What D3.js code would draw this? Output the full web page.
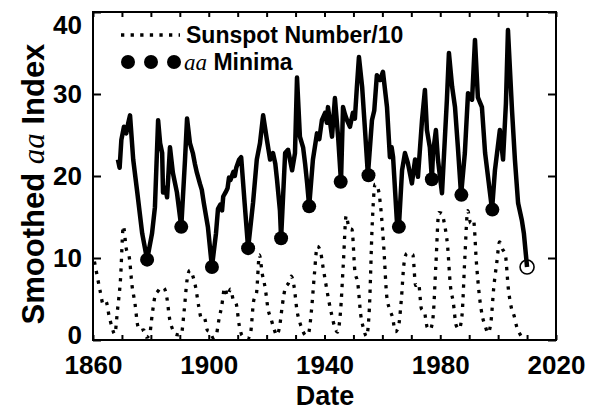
<!DOCTYPE html>
<html><head><meta charset="utf-8">
<script src="https://cdn.jsdelivr.net/npm/d3@7"></script>
<style>body{margin:0;background:#fff}</style>
</head><body>
<svg id="c" width="592" height="410"></svg>
<script>
// Sunspot number / 10 (yearly, plotted mid-year)
const sunYears = d3.range(1860.5, 2010, 1);
const sunValues = [9.58,7.72,5.91,4.40,4.70,3.05,1.63,0.73,3.76,7.40,
13.90,11.12,10.16,6.62,4.47,1.70,1.13,1.24,0.34,0.60,
3.23,5.43,5.97,6.37,6.35,5.22,2.54,1.31,0.68,0.63,
0.71,3.56,7.30,8.51,7.80,6.40,4.18,2.62,2.67,1.21,
0.95,0.27,0.50,2.44,4.20,6.35,5.38,6.20,4.85,4.39,
1.86,0.57,0.36,0.14,0.96,4.74,5.71,10.39,8.06,6.36,
3.76,2.61,1.42,0.58,1.67,4.43,6.39,6.90,7.78,6.49,
3.57,2.12,1.11,0.57,0.87,3.61,7.97,11.44,10.96,8.88,
6.78,4.75,3.06,1.63,0.96,3.32,9.26,15.16,13.63,13.47,
8.39,6.94,3.15,1.39,0.44,3.80,14.17,19.02,18.48,15.90,
11.23,5.39,3.75,2.79,1.02,1.51,4.70,9.38,10.59,10.55,
10.45,6.66,6.89,3.80,3.45,1.55,1.26,2.75,9.25,15.54,
15.46,14.04,11.59,6.66,4.59,1.79,1.34,2.94,10.02,15.76,
14.26,14.57,9.43,5.46,2.99,1.75,0.86,2.15,6.43,9.33,
11.96,11.10,10.40,6.37,4.04,2.98,1.52,0.75,0.29,0.31];

// Smoothed aa index
const aaYears = [1868.6,1869.2,1869.8,1870.7,1871.5,1872.2,1872.8,1873.9,1875.3,1877.0,1878.7,
1880.4,1881.4,1882.5,1883.2,1883.9,1884.2,1885.0,1885.6,1886.6,1887.6,1889.0,1890.5,
1891.8,1892.5,1893.5,1894.5,1895.2,1895.9,1897.0,1897.6,1898.3,1899.7,1901.1,1902.5,
1903.2,1904.0,1904.6,1905.0,1905.8,1906.5,1907.0,1907.5,1908.5,1909.0,1909.5,1910.5,1911.2,1912.4,1913.6,
1915.3,1916.6,1917.7,1918.8,1920.1,1921.2,1922.2,1923.0,1923.6,1924.6,1925.0,
1926.4,1927.4,1928.8,1929.8,1930.5,1931.5,1932.6,1933.3,1934.0,1934.7,1936.0,
1937.4,1938.2,1939.1,1940.2,1940.8,1941.2,1942.6,1943.6,1944.7,1945.7,1946.4,1947.1,1947.8,
1948.8,1949.8,1950.5,1951.2,1951.9,1953.0,1954.0,1955.0,1956.4,1957.2,1958.1,1959.2,
1960.2,1961.6,1962.6,1963.2,1963.7,1965.0,1965.7,1966.8,1967.8,1968.8,1970.2,
1971.3,1972.3,1973.7,1974.7,1975.4,1976.4,1977.1,1977.5,1978.5,1979.2,
1980.6,1982.3,1983.0,1984.1,1985.1,1986.1,1987.2,1988.5,1989.6,1991.0,
1992.0,1993.0,1994.4,1995.5,1997.2,1997.9,1998.9,2000.6,2001.7,2002.7,
2003.4,2004.8,2005.8,2006.9,2008.2,2008.9,2010.0];
const aaValues = [22.0,21.0,24.4,26.0,25.2,26.5,27.4,22.0,18.0,13.0,9.8,
13.0,16.2,26.8,24.0,22.8,18.0,18.6,17.4,23.5,20.4,18.0,13.8,
22.0,27.0,24.0,22.8,21.5,20.4,19.0,18.3,16.7,13.8,8.9,13.0,
16.0,16.5,15.8,17.5,18.0,18.5,19.8,19.5,20.5,20.0,21.0,22.0,22.3,16.7,11.2,
16.7,22.0,24.0,27.4,24.4,22.0,22.8,21.5,19.5,15.8,12.4,
22.8,23.2,20.7,22.8,32.0,24.8,23.5,21.5,19.1,16.3,22.0,
25.2,24.5,26.8,27.7,26.5,28.4,24.8,29.5,24.8,19.3,28.4,27.5,26.8,
26.0,27.7,27.0,30.9,34.5,30.9,25.6,20.1,26.8,28.0,32.3,31.7,
32.7,28.4,22.3,23.5,22.3,14.6,13.8,20.7,22.8,21.6,19.1,
22.0,19.9,26.8,30.5,25.6,23.5,19.6,22.8,25.6,22.0,
17.9,29.3,35.0,30.9,28.4,23.5,17.7,22.8,30.1,29.3,
36.6,29.6,28.4,22.8,17.9,15.9,20.7,25.6,22.0,28.9,
37.8,28.0,22.0,16.7,14.6,13.0,8.9];

// aa minima
const minYears = [1878.7,1890.5,1901.1,1913.6,1925.0,1934.7,1945.6,1955.2,1965.7,1977.1,1987.3,1998.0];
const minValues = [9.8,13.8,8.9,11.2,12.4,16.3,19.3,20.1,13.8,19.6,17.7,15.9];
const openMinYear = [2010.0];
const openMinValue = [8.9];

const xTicks = d3.range(1860, 2021, 10);
const xLabels = [1860, 1900, 1940, 1980, 2020];
const yTicks = [0, 10, 20, 30, 40];

const FONT = "'Liberation Sans', Arial, Helvetica, sans-serif";
const SERIF = "'Liberation Serif', 'Times New Roman', serif";
const svg = d3.select("#c");
const x = d3.scaleLinear().domain([1860, 2020]).range([93, 556]);
const y = d3.scaleLinear().domain([0, 40]).range([340, 12]);

// sunspot dotted line
const sunData = sunYears.map((d, i) => [d, sunValues[i]]);
svg.append("path").datum(sunData)
  .attr("d", d3.line().x(d => x(d[0])).y(d => y(d[1])).curve(d3.curveMonotoneX))
  .attr("fill", "none").attr("stroke", "#000").attr("stroke-width", 3.3)
  .attr("stroke-dasharray", "3.3,6.3");

// aa line
const aaData = aaYears.map((d, i) => [d, aaValues[i]]);
svg.append("path").datum(aaData)
  .attr("d", d3.line().x(d => x(d[0])).y(d => y(d[1])))
  .attr("fill", "none").attr("stroke", "#000").attr("stroke-width", 4.5)
  .attr("stroke-linejoin", "round");

// minima
svg.append("g").selectAll("circle").data(minYears.map((d, i) => [d, minValues[i]]))
  .join("circle").attr("cx", d => x(d[0])).attr("cy", d => y(d[1])).attr("r", 7).attr("fill", "#000");
svg.append("g").selectAll("circle").data(openMinYear.map((d, i) => [d, openMinValue[i]]))
  .join("circle").attr("cx", d => x(d[0])).attr("cy", d => y(d[1])).attr("r", 7)
  .attr("fill", "none").attr("stroke", "#000").attr("stroke-width", 1.6);

// axes
function styleAxis(g) {
  g.select(".domain").remove();
  g.selectAll(".tick line").attr("stroke", "#000").attr("stroke-width", 2);
  g.selectAll("text").attr("font-family", FONT).attr("font-size", 26).attr("fill", "#000")
    .attr("font-weight", "bold");
}
svg.append("g").attr("transform", `translate(0,${y(0)})`)
  .call(d3.axisBottom(x).tickValues(xTicks).tickSize(-5).tickPadding(16)
    .tickFormat(d => xLabels.includes(d) ? String(d) : ""))
  .call(styleAxis);
svg.append("g").attr("transform", `translate(0,${y(40)})`)
  .call(d3.axisTop(x).tickValues(xTicks).tickSize(-5).tickFormat(""))
  .call(styleAxis);
const gy = svg.append("g").attr("transform", `translate(${x(1860)},0)`)
  .call(d3.axisLeft(y).tickValues(yTicks).tickSize(-8).tickPadding(11).tickFormat(d3.format("d")))
  .call(styleAxis);
gy.selectAll(".tick text").filter(d => d === 40).attr("y", 13);
gy.selectAll(".tick text").filter(d => d === 0).attr("y", -5);
svg.append("g").attr("transform", `translate(${x(2020)},0)`)
  .call(d3.axisRight(y).tickValues(yTicks).tickSize(-8).tickFormat(""))
  .call(styleAxis);

// frame
svg.append("rect").attr("x", x(1860)).attr("y", y(40))
  .attr("width", x(2020) - x(1860)).attr("height", y(0) - y(40))
  .attr("fill", "none").attr("stroke", "#000").attr("stroke-width", 2);

// axis titles
svg.append("text").attr("x", 325).attr("y", 405).attr("text-anchor", "middle")
  .attr("font-family", FONT).attr("font-size", 27).attr("font-weight", "bold")
  .text("Date");
const yl = svg.append("text").attr("transform", "translate(44,184) rotate(-90)")
  .attr("text-anchor", "middle").attr("font-family", FONT).attr("font-size", 31)
  .attr("font-weight", "bold");
yl.append("tspan").text("Smoothed ");
yl.append("tspan").attr("font-family", SERIF).attr("font-style", "italic").attr("font-weight", "normal").text("aa");
yl.append("tspan").text(" Index");

// legend
svg.append("line").attr("x1", 121).attr("x2", 180).attr("y1", 35).attr("y2", 35)
  .attr("stroke", "#000").attr("stroke-width", 3.3).attr("stroke-dasharray", "3.3,6.3");
svg.append("text").attr("x", 186).attr("y", 43).attr("font-family", FONT)
  .attr("font-size", 23).attr("font-weight", "bold").text("Sunspot Number/10");
svg.append("g").selectAll("circle").data([128, 151, 174]).join("circle")
  .attr("cx", d => d).attr("cy", 62).attr("r", 7).attr("fill", "#000");
const lt = svg.append("text").attr("x", 184).attr("y", 70).attr("font-family", FONT)
  .attr("font-size", 23).attr("font-weight", "bold");
lt.append("tspan").attr("font-family", SERIF).attr("font-style", "italic").attr("font-weight", "normal").text("aa");
lt.append("tspan").text(" Minima");
</script>
</body></html>
